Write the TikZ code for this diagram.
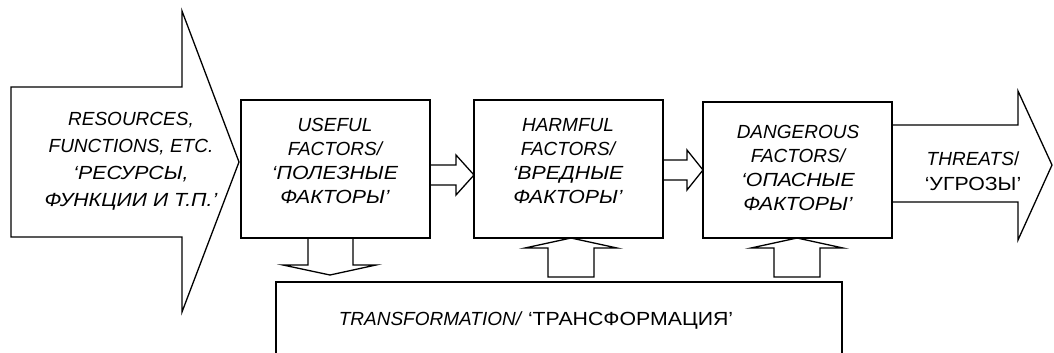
\documentclass[tikz,border=0pt]{standalone}
\usepackage{fontspec}
\setmainfont{Liberation Sans}
\newfontfamily\cyr[FakeStretch=1.12]{Liberation Sans}
\usetikzlibrary{calc}

\newcommand\labelfont{\fontsize{19bp}{24bp}\selectfont}

\tikzset{
    factor box/.style = {
        draw,
        line width=1.3bp,
        anchor=north west,
        inner sep=0,
        outer sep=0,
    },
    label text/.style = {
        align=center,
        font=\labelfont,
        inner sep=0,
        outer sep=0,
    },
    block arrow/.style = {
        draw,
        line width=1.3bp,
        line join=miter,
    },
}

\begin{document}
\begin{tikzpicture}[x=1bp, y=-1bp]

    \useasboundingbox (0,0) rectangle (1054,352);

    % factor boxes
    \foreach \name/\x/\y/\h in {
        useful/241/100/138,
        harmful/474/100/138,
        dangerous/703/102/136
    } {
        \node[factor box, minimum width=189bp, minimum height=\h bp] (\name) at (\x,\y) {};
    }
    \node[factor box, minimum width=566bp, minimum height=80bp] (transform) at (276,282) {};

    % big input arrow
    \draw[block arrow] (11,87) -- (182,87) -- (182,11) -- (239,162)
        -- (182,312) -- (182,237) -- (11,237) -- cycle;
    \node[label text, font=\fontsize{19bp}{27bp}\selectfont] (resources) at (131,161)
        {\itshape RESOURCES,\\\itshape FUNCTIONS, ETC.\\\itshape\cyr ‘РЕСУРСЫ,\\\itshape\cyr ФУНКЦИИ И Т.П.’};

    % arrows between the boxes
    \draw[block arrow] (useful.east |- 0,165) -- (456,165) -- (456,155) -- (harmful.west |- 0,175)
        -- (456,195) -- (456,185) -- (useful.east |- 0,185);
    \draw[block arrow] (harmful.east |- 0,160) -- (687,160) -- (687,150) -- (dangerous.west |- 0,170)
        -- (687,190) -- (687,180) -- (harmful.east |- 0,180);

    % output arrow
    \draw[block arrow] (dangerous.east |- 0,125) -- (1018,125) -- (1018,91) -- (1052,165)
        -- (1018,240) -- (1018,202) -- (dangerous.east |- 0,202);

    % to and from the transformation
    \draw[block arrow] (useful.south -| 308,0) -- (308,265) -- (283,265) -- (330,275)
        -- (376,265) -- (353,265) -- (useful.south -| 353,0);
    \foreach \t/\c in {harmful/571, dangerous/797} {
        \draw[block arrow] (\t.south -| \c,0) -- (\c+46,248) -- (\c+23,248) -- (\c+23,277)
            -- (\c-23,277) -- (\c-23,248) -- (\c-46,248) -- cycle;
    }

    % box labels
    \node[label text] (useful text) at (335,161) {\itshape USEFUL\\\itshape FACTORS/\\\itshape\cyr ‘ПОЛЕЗНЫЕ\\\itshape\cyr ФАКТОРЫ’};
    \node[label text] (harmful text) at (568,161) {\itshape HARMFUL\\\itshape FACTORS/\\\itshape\cyr ‘ВРЕДНЫЕ\\\itshape\cyr ФАКТОРЫ’};
    \node[label text] (dangerous text) at (798,168) {\itshape DANGEROUS\\\itshape FACTORS/\\\itshape\cyr ‘ОПАСНЫЕ\\\itshape\cyr ФАКТОРЫ’};
    \node[label text, font=\fontsize{19bp}{25.5bp}\selectfont] (threats) at (973,171) {\textit{THREATS}/\\{\cyr ‘УГРОЗЫ’}};
    \node[label text] (transform text) at (536,321) {\textit{TRANSFORMATION/} {\cyr ‘ТРАНСФОРМАЦИЯ’}};

\end{tikzpicture}
\end{document}
